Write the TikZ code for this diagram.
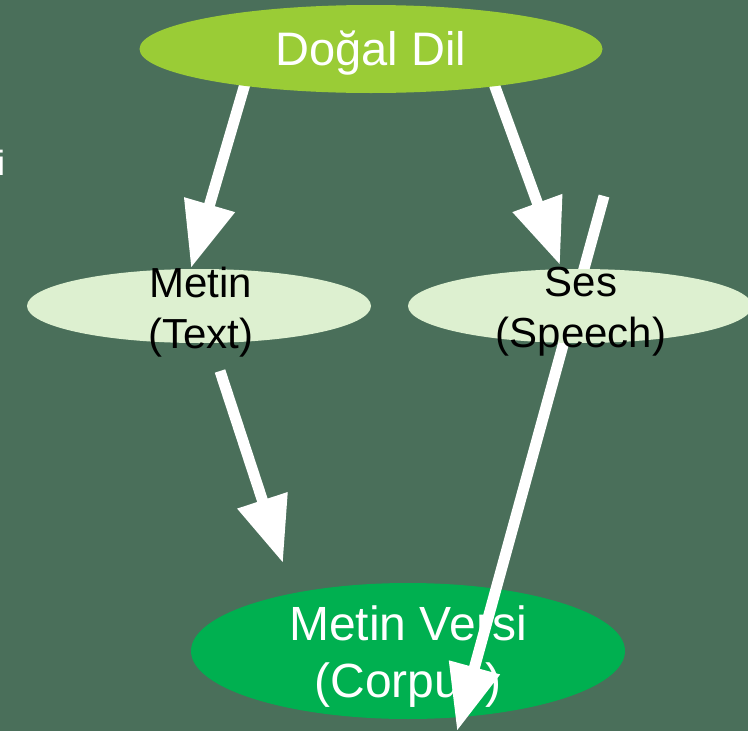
\documentclass[tikz,border=0pt]{standalone}
\usepackage{fontspec}
\setmainfont{Liberation Sans}
\usetikzlibrary{shapes.geometric,arrows.meta}
\definecolor{slidebg}{RGB}{74,111,90}
\definecolor{dilgreen}{RGB}{154,204,54}
\definecolor{palegreen}{RGB}{221,240,208}
\definecolor{corpusgreen}{RGB}{0,176,80}
\tikzset{
  oval/.style={ellipse, draw=none, inner sep=0pt},
  bigtext/.style={text=white, align=center, inner sep=0pt,
    font=\fontsize{47}{57}\selectfont},
  corpustext/.style={text=white, align=center, inner sep=0pt,
    font=\fontsize{48}{57}\selectfont},
  smalltext/.style={text=black, align=center, inner sep=0pt,
    font=\fontsize{42}{51}\selectfont},
  conn/.style={draw=white, line width=11pt,
    -{Triangle[length=66pt,width=50pt]}, fill=white},
}
\begin{document}
\begin{tikzpicture}[x=1pt,y=-1pt]
  \fill[slidebg] (0,0) rectangle (748,731);
  \useasboundingbox (0,0) rectangle (748,731);

  % connector end points
  \coordinate (dlA) at (252,60);
  \coordinate (metinTop) at (191,268);
  \coordinate (dlB) at (486,62);
  \coordinate (sesTop) at (560,265);
  \coordinate (metinLow) at (220,371);
  \coordinate (corpusTop) at (283,563);
  \coordinate (sesStub) at (604,196);
  \coordinate (corpusLow) at (457,731);

  % arrows leaving the top ellipse (drawn beneath it)
  \draw[conn] (dlA) -- (metinTop);
  \draw[conn] (dlB) -- (sesTop);

  % top ellipse
  \node[oval, fill=dilgreen, minimum width=463pt, minimum height=88pt] (dd) at (371,49) {};
  \node[bigtext, anchor=base] (ddT) at (371,65) {Doğal Dil};

  % corpus ellipse
  \node[oval, fill=corpusgreen, minimum width=434pt, minimum height=136pt] (corpus) at (408,651) {};
  \node[corpustext] (corpusT) at (408,657) {Metin Versi\\(Corpus)};

  % arrows into the corpus
  \draw[conn] (metinLow) -- (corpusTop);
  \draw[conn] (sesStub) -- (corpusLow);

  % middle ellipses
  \node[oval, fill=palegreen, minimum width=344pt, minimum height=74pt] (metin) at (199,306) {};
  \node[smalltext] (metinT) at (201,312) {Metin\\(Text)};
  \node[oval, fill=palegreen, minimum width=344pt, minimum height=74pt] (ses) at (580,306) {};
  \node[smalltext] (sesT) at (581,312) {Ses\\(Speech)};

  % letter at the left edge
  \node[text=white, inner sep=0pt, anchor=base east,
    font=\fontsize{35}{40}\selectfont] (edge) at (5.3,175) {i};
\end{tikzpicture}
\end{document}
